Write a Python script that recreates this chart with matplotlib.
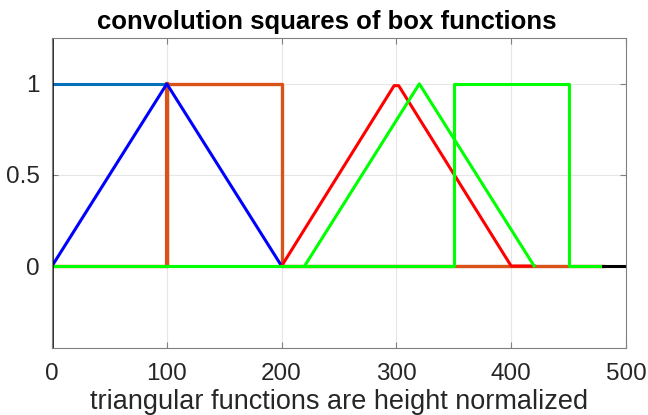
import matplotlib.pyplot as plt

plt.rcParams['font.family'] = ['Liberation Sans', 'DejaVu Sans']

# box 1 (0..100) and box 2 (100..200)
box1_x = [0, 100, 100, 480]
box1_y = [1, 1, 0, 0]
box2_x = [0, 100, 100, 200, 200, 480]
box2_y = [0, 0, 1, 1, 0, 0]
# triangles (convolution squares)
tri1_x = [0, 100, 200]
tri1_y = [0, 1, 0]
tri2_x = [200, 298, 302, 400, 420]
tri2_y = [0, 0.99, 0.99, 0, 0]
tri3_x = [220, 320, 420]
tri3_y = [0, 1, 0]
# shifted box (350..450)
box3_x = [0, 350, 350, 450, 450, 480]
box3_y = [0, 0, 1, 1, 0, 0]

xticks = [0, 100, 200, 300, 400, 500]
yticks = [0, 0.5, 1]

fig = plt.figure(figsize=(6.48, 4.15), dpi=100)
ax = fig.add_axes([0.0803, 0.1614, 0.8857, 0.7463])

ax.plot(box1_x, box1_y, color=(0, 0.447, 0.741), lw=2.2)
ax.plot(box2_x, box2_y, color=(0.85, 0.325, 0.098), lw=2.4)
ax.plot([100, 100], [0, 1], color=(0.85, 0.325, 0.098), lw=3.0)
ax.plot(tri1_x, tri1_y, color='blue', lw=2.2)
ax.plot(tri2_x, tri2_y, color='red', lw=2.2)
ax.plot(tri3_x, tri3_y, color=(0, 1, 0), lw=2.2)
ax.plot(box3_x, box3_y, color=(0, 1, 0), lw=2.2)
# black axis lines
ax.plot([0, 0], [-0.45, 1.25], color='black', lw=2.6)
ax.plot([480, 500], [0, 0], color='black', lw=2.2)

ax.set_xlim(0, 500)
ax.set_ylim(-0.45, 1.25)
ax.set_xticks(xticks)
ax.set_yticks(yticks)
ax.set_yticklabels(['0', '0.5', '1'])
ax.grid(True, color='#e6e6e6', lw=0.8)
ax.set_axisbelow(True)
for s in ax.spines.values():
    s.set_color('#808080')
    s.set_linewidth(0.8)
ax.tick_params(direction='in', top=True, right=True, length=4, width=0.8,
               color='#808080', labelsize=17.5, labelcolor='#262626')
ax.tick_params(axis='x', pad=11)
ax.tick_params(axis='y', pad=9)

ax.set_xlabel('triangular functions are height normalized', fontsize=19.5,
              color='#262626', va='baseline')
ax.xaxis.set_label_coords(0.5, -0.197)
ax.set_title('convolution squares of box functions', fontsize=18.5,
             fontweight='bold', pad=7, x=0.478)

fig.savefig('out.png', dpi=100)
